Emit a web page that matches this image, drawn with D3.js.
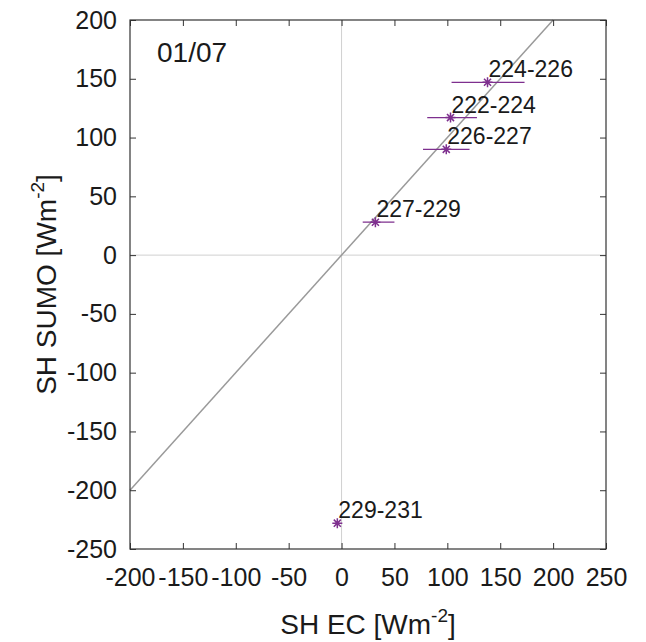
<!DOCTYPE html>
<html>
<head>
<meta charset="utf-8">
<script src="https://cdn.jsdelivr.net/npm/d3@7"></script>
<style>
body { margin: 0; background: #fff; }
text { font-family: "Liberation Sans", Arial, sans-serif; fill: #1a1a1a; }
</style>
</head>
<body>
<svg id="vis1" width="646" height="642"></svg>
<script>
// periods (day-of-year ranges) and their sensible heat values
const labels = ["224-226", "222-224", "226-227", "227-229", "229-231"];
const shEC = [138, 103, 99, 32, -4];
const shSUMO = [147, 117, 90, 28, -228];
const ecLow = [104, 81, 77, 20, -4];
const ecHigh = [173, 128, 121, 50, -4];

const xTicks = [-200, -150, -100, -50, 0, 50, 100, 150, 200, 250];
const yTicks = [-250, -200, -150, -100, -50, 0, 50, 100, 150, 200];
const oneToOne = [-200, 200];

var width = 646,
    height = 642;

const margin = {
    top: 20,
    bottom: 93,
    left: 130,
    right: 40
};

const purple = "#7e2f8e";

var svg = d3.select("svg#vis1");

var x = d3.scaleLinear()
    .domain([-200, 250])
    .range([margin.left, width - margin.right]);

var y = d3.scaleLinear()
    .domain([-250, 200])
    .range([height - margin.bottom, margin.top]);

function translate(x, y) {
    return "translate(" + String(x) + "," + String(y) + ")";
}

// plain hyphen for negatives, like the original
var fmt = d => String(d);

// zero lines
svg.append("line")
    .attr("x1", x(0)).attr("x2", x(0))
    .attr("y1", y(-250)).attr("y2", y(200))
    .attr("stroke", "#d0d0d0").attr("stroke-width", 1);
svg.append("line")
    .attr("x1", x(-200)).attr("x2", x(250))
    .attr("y1", y(0)).attr("y2", y(0))
    .attr("stroke", "#d0d0d0").attr("stroke-width", 1);

// 1:1 line
svg.append("line")
    .attr("x1", x(oneToOne[0])).attr("y1", y(oneToOne[0]))
    .attr("x2", x(oneToOne[1])).attr("y2", y(oneToOne[1]))
    .attr("stroke", "#9a9a9a").attr("stroke-width", 1.5);

// axes (ticks inward, mirrored on top/right)
var axisB = d3.axisBottom(x).tickValues(xTicks).tickSize(-6).tickSizeOuter(0).tickPadding(19).tickFormat(fmt);
var axisL = d3.axisLeft(y).tickValues(yTicks).tickSize(-6).tickSizeOuter(0).tickPadding(13).tickFormat(fmt);
var axisT = d3.axisTop(x).tickValues(xTicks).tickSize(-6).tickSizeOuter(0).tickFormat("");
var axisR = d3.axisRight(y).tickValues(yTicks).tickSize(-6).tickSizeOuter(0).tickFormat("");

function styleAxis(gAxis) {
    gAxis.select(".domain").remove();
    gAxis.selectAll("line").attr("stroke", "#333");
    gAxis.selectAll("text")
        .style("font-family", "'Liberation Sans', Arial, sans-serif")
        .style("font-size", "25px")
        .attr("fill", "#1a1a1a");
}

svg.append("g").attr("transform", translate(0, height - margin.bottom)).call(axisB).call(styleAxis);
svg.append("g").attr("transform", translate(margin.left, 0)).call(axisL).call(styleAxis);
svg.append("g").attr("transform", translate(0, margin.top)).call(axisT).call(styleAxis);
svg.append("g").attr("transform", translate(width - margin.right, 0)).call(axisR).call(styleAxis);

// frame
svg.append("rect")
    .attr("x", margin.left).attr("y", margin.top)
    .attr("width", width - margin.left - margin.right)
    .attr("height", height - margin.top - margin.bottom)
    .attr("fill", "none").attr("stroke", "#333").attr("stroke-width", 1.2);

// horizontal error bars
svg.append("g").selectAll("line")
    .data(labels)
    .enter()
    .append("line")
    .attr("x1", (d, i) => x(ecLow[i]))
    .attr("x2", (d, i) => x(ecHigh[i]))
    .attr("y1", (d, i) => y(shSUMO[i]))
    .attr("y2", (d, i) => y(shSUMO[i]))
    .attr("stroke", purple).attr("stroke-width", 1.2);

// asterisk markers
function asterisk(r) {
    let a = r * 0.707;
    return "M" + (-r) + ",0L" + r + ",0M0," + (-r) + "L0," + r +
        "M" + (-a) + "," + (-a) + "L" + a + "," + a +
        "M" + (-a) + "," + a + "L" + a + "," + (-a);
}

svg.append("g").selectAll("path")
    .data(labels)
    .enter()
    .append("path")
    .attr("transform", (d, i) => translate(x(shEC[i]), y(shSUMO[i])))
    .attr("d", asterisk(5))
    .attr("stroke", purple).attr("stroke-width", 1.5).attr("fill", "none");

// point labels
svg.append("g").selectAll("text")
    .data(labels)
    .enter()
    .append("text")
    .attr("x", (d, i) => x(shEC[i]) + 1)
    .attr("y", (d, i) => y(shSUMO[i]) - 5)
    .style("font-size", "23px")
    .text(d => d);

// date label
svg.append("text")
    .attr("x", 157)
    .attr("y", 62)
    .style("font-size", "28px")
    .text("01/07");

// axis titles
var xt = svg.append("text")
    .attr("x", (x(-200) + x(250)) / 2)
    .attr("y", 634)
    .attr("text-anchor", "middle")
    .style("font-size", "28px");
xt.append("tspan").text("SH EC [Wm");
xt.append("tspan").attr("dy", -12).style("font-size", "19px").text("-2");
xt.append("tspan").attr("dy", 12).text("]");

var yt = svg.append("text")
    .attr("transform", translate(56, (y(-250) + y(200)) / 2) + " rotate(-90)")
    .attr("text-anchor", "middle")
    .style("font-size", "28px");
yt.append("tspan").text("SH SUMO [Wm");
yt.append("tspan").attr("dy", -12).style("font-size", "19px").text("-2");
yt.append("tspan").attr("dy", 12).text("]");
</script>
</body>
</html>
